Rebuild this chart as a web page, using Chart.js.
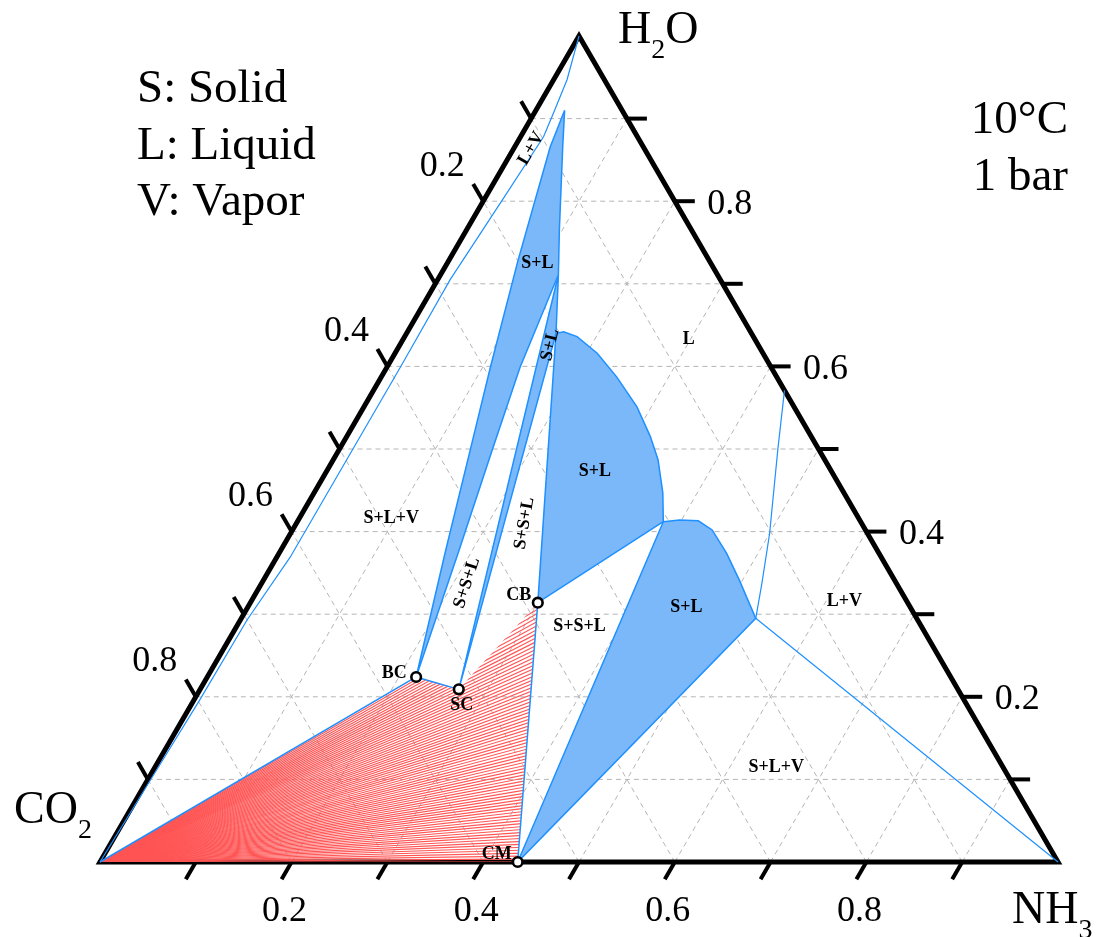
<!DOCTYPE html>
<html>
<head>
<meta charset="utf-8">
<script src="https://cdn.jsdelivr.net/npm/chart.js@4.4.0/dist/chart.umd.min.js"></script>
<style>
  body { margin: 0; background: #fff; }
  #ternaire { display: block; }
</style>
</head>
<body>
<canvas id="ternaire" width="1097" height="937"></canvas>
<script>
// Compositions en fractions [NH3, H2O] ; CO2 = 1 - NH3 - H2O
const sommetCO2 = [0, 0];
const sommetNH3 = [1, 0];
const sommetH2O = [0, 1];

// points singuliers (sels solides)
const ptCM = [0.436, 0.000];
const ptBC = [0.218, 0.224];
const ptSC = [0.270, 0.209];
const ptCB = [0.300, 0.314];

// domaines S+L
const zoneSL_haut = [
  [0.030, 0.910], [0.050, 0.866], [0.097, 0.765], [0.123, 0.711], [0.139, 0.599],
  [0.160, 0.499], [0.186, 0.378], ptBC,
  [0.172, 0.378], [0.137, 0.499], [0.108, 0.599], [0.072, 0.729], [0.037, 0.866], [0.030, 0.910]
];
const zoneSL_etroit = [[0.123, 0.711], [0.156, 0.640], ptSC, [0.123, 0.711]];
const zoneSL_milieu = [
  [0.156, 0.640], [0.163, 0.642], [0.180, 0.636], [0.211, 0.616], [0.246, 0.587],
  [0.285, 0.551], [0.317, 0.515], [0.339, 0.487], [0.364, 0.447], [0.382, 0.412],
  ptCB, [0.156, 0.640]
];
const zoneSL_bas = [
  [0.382, 0.412], [0.398, 0.414], [0.418, 0.413], [0.438, 0.402], [0.467, 0.374],
  [0.497, 0.341], [0.537, 0.295], ptCM, [0.382, 0.412]
];

// frontières liquide / vapeur
const courbeLV_gauche = [
  sommetH2O, [0.014, 0.947], [0.020, 0.907], [0.024, 0.878], [0.019, 0.798],
  [0.013, 0.705], [0.014, 0.599], [0.014, 0.369], [0.007, 0.293], [0.006, 0.196],
  [0.003, 0.099], sommetCO2
];
const courbeLV_droite = [[0.537, 0.295], [0.522, 0.338], [0.500, 0.398], [0.458, 0.499], [0.429, 0.571]];
const ligneSLV_droite = [[0.537, 0.295], sommetNH3];
const ligneCO2_BC = [sommetCO2, ptBC];
const ligneBC_SC = [ptBC, ptSC];
const ligneCB_CM = [ptCB, ptCM];

// domaine des conodales, hachuré en éventail depuis CO2
const zoneConodales = [sommetCO2, ptBC, ptSC, ptCB, ptCM];

// graduations des trois axes
const graduations = [0.1, 0.2, 0.3, 0.4, 0.5, 0.6, 0.7, 0.8, 0.9];
const etiquettesAxes = ['0.2', '0.4', '0.6', '0.8'];

// étiquettes des domaines : texte, position [NH3, H2O], angle en degrés
const etiquettesDomaines = [
  ['L+V', [0.018, 0.864], -60],
  ['S+L', [0.094, 0.725], 0],
  ['S+L', [0.157, 0.626], -76],
  ['S+S+L', [0.214, 0.338], -72],
  ['S+S+L', [0.238, 0.410], -80],
  ['S+L+V', [0.096, 0.416], 0],
  ['S+L', [0.280, 0.473], 0],
  ['L', [0.298, 0.633], 0],
  ['S+L', [0.458, 0.308], 0],
  ['S+S+L', [0.358, 0.285], 0],
  ['L+V', [0.619, 0.316], 0],
  ['S+L+V', [0.649, 0.114], 0]
];
const nomsPoints = [['BC', ptBC, -22, -4], ['SC', ptSC, 3, 16], ['CB', ptCB, -19, -7], ['CM', ptCM, -21, -8]];

const BLEU = 'rgb(30,144,255)';
const BLEU_CLAIR = 'rgb(122,184,250)';
const POLICE = '"Liberation Serif", "Times New Roman", serif';

// coordonnées ternaires -> repère cartésien du graphique
const toXY = ([nh3, h2o]) => ({ x: nh3 + h2o / 2, y: h2o });

function px(chart, p) {
  const { x, y } = toXY(p);
  return [chart.scales.x.getPixelForValue(x), chart.scales.y.getPixelForValue(y)];
}

function segment(ctx, a, b) {
  ctx.beginPath();
  ctx.moveTo(a[0], a[1]);
  ctx.lineTo(b[0], b[1]);
  ctx.stroke();
}

function ligne(data, largeur) {
  return {
    data: data.map(toXY), showLine: true, borderColor: BLEU, borderWidth: largeur,
    pointRadius: 0, fill: false, tension: 0, clip: false, order: 2
  };
}

function zone(data) {
  return {
    data: data.map(toXY), showLine: true, borderColor: BLEU, borderWidth: 1.5,
    backgroundColor: BLEU_CLAIR, fill: 'shape', pointRadius: 0, tension: 0, clip: false, order: 3
  };
}

// texte avec indice (H2O, CO2, NH3)
function formule(ctx, morceaux, x, y) {
  morceaux.forEach(([txt, indice]) => {
    ctx.font = (indice ? '28px ' : '46px ') + POLICE;
    ctx.fillText(txt, x, indice ? y + 15 : y);
    x += ctx.measureText(txt).width;
  });
}

const pluginTernaire = {
  id: 'ternaire',
  beforeDatasetsDraw(chart) {
    const ctx = chart.ctx;
    ctx.save();

    // grille pointillée
    ctx.strokeStyle = '#b5b5b5';
    ctx.lineWidth = 1;
    ctx.setLineDash([5, 4]);
    graduations.forEach(g => {
      segment(ctx, px(chart, [g, 0]), px(chart, [g, 1 - g]));
      segment(ctx, px(chart, [0, g]), px(chart, [1 - g, g]));
      segment(ctx, px(chart, [g, 0]), px(chart, [0, g]));
    });
    ctx.setLineDash([]);

    // cadre du triangle
    const A = px(chart, sommetCO2), B = px(chart, sommetNH3), C = px(chart, sommetH2O);
    ctx.strokeStyle = '#000';
    ctx.lineWidth = 5;
    ctx.lineJoin = 'miter';
    ctx.beginPath();
    ctx.moveTo(A[0], A[1]); ctx.lineTo(B[0], B[1]); ctx.lineTo(C[0], C[1]); ctx.closePath();
    ctx.stroke();

    // graduations
    const L = 20;
    ctx.lineWidth = 4;
    ctx.lineCap = 'butt';
    graduations.forEach(g => {
      const pb = px(chart, [g, 0]);
      segment(ctx, pb, [pb[0] - 0.5 * L, pb[1] + 0.866 * L]);
      const pd = px(chart, [1 - g, g]);
      segment(ctx, pd, [pd[0] + L, pd[1]]);
      const pg = px(chart, [0, 1 - g]);
      segment(ctx, pg, [pg[0] - 0.5 * L, pg[1] - 0.866 * L]);
    });

    // conodales : rayons depuis CO2, découpés par le contour du domaine
    const contour = zoneConodales.map(p => px(chart, p));
    ctx.save();
    ctx.beginPath();
    contour.forEach(([x, y], i) => (i ? ctx.lineTo(x, y) : ctx.moveTo(x, y)));
    ctx.closePath();
    ctx.clip();
    const angleMax = Math.max(...contour.slice(1).map(([x, y]) => Math.atan2(A[1] - y, x - A[0])));
    const pasAngle = 0.4 * Math.PI / 180;
    ctx.strokeStyle = 'rgb(255,85,85)';
    ctx.lineWidth = 1.15;
    for (let t = 0; t <= angleMax + 1e-6; t += pasAngle) {
      segment(ctx, A, [A[0] + 1000 * Math.cos(t), A[1] - 1000 * Math.sin(t)]);
    }
    ctx.restore();
    ctx.restore();
  },
  afterDatasetsDraw(chart) {
    const ctx = chart.ctx;
    ctx.save();
    ctx.fillStyle = '#000';
    ctx.textAlign = 'center';
    ctx.textBaseline = 'middle';

    // étiquettes des domaines
    ctx.font = 'bold 18px ' + POLICE;
    etiquettesDomaines.forEach(([txt, p, angle]) => {
      const [x, y] = px(chart, p);
      ctx.save();
      ctx.translate(x, y);
      ctx.rotate(angle * Math.PI / 180);
      ctx.fillText(txt, 0, 0);
      ctx.restore();
    });
    nomsPoints.forEach(([txt, p, dx, dy]) => {
      const [x, y] = px(chart, p);
      ctx.fillText(txt, x + dx, y + dy);
    });

    // valeurs des axes
    ctx.font = '36px ' + POLICE;
    etiquettesAxes.forEach(txt => {
      const v = parseFloat(txt);
      const pb = px(chart, [v, 0]);
      ctx.fillText(txt, pb[0] - 7, pb[1] + 50);
      const pd = px(chart, [1 - v, v]);
      ctx.fillText(txt, pd[0] + 55, pd[1] + 3);
      const pg = px(chart, [0, 1 - v]);
      ctx.fillText(txt, pg[0] - 41, pg[1] - 35);
    });

    // sommets
    ctx.textAlign = 'left';
    ctx.textBaseline = 'alphabetic';
    const A = px(chart, sommetCO2), B = px(chart, sommetNH3), C = px(chart, sommetH2O);
    formule(ctx, [['H', false], ['2', true], ['O', false]], C[0] + 39, C[1] + 7);
    formule(ctx, [['CO', false], ['2', true]], A[0] - 86, A[1] - 39);
    formule(ctx, [['NH', false], ['3', true]], B[0] - 46, B[1] + 61);

    // légende et conditions
    ctx.font = '47px ' + POLICE;
    ['S: Solid', 'L: Liquid', 'V: Vapor'].forEach((t, i) => ctx.fillText(t, 137, 102 + i * 56.5));
    ctx.textAlign = 'right';
    ctx.fillText('10°C', 1068, 133);
    ctx.fillText('1 bar', 1068, 190);
    ctx.restore();
  }
};

new Chart(document.getElementById('ternaire'), {
  type: 'scatter',
  data: {
    datasets: [
      {
        data: [ptBC, ptSC, ptCB, ptCM].map(toXY), showLine: false,
        pointRadius: 4.8, pointBorderWidth: 2.6, pointBackgroundColor: '#fff',
        pointBorderColor: '#000', clip: false, order: 0
      },
      ligne(courbeLV_gauche, 1.2),
      ligne(courbeLV_droite, 1.2),
      ligne(ligneSLV_droite, 1.2),
      ligne(ligneCO2_BC, 1.5),
      ligne(ligneBC_SC, 1.5),
      ligne(ligneCB_CM, 1.5),
      zone(zoneSL_haut),
      zone(zoneSL_etroit),
      zone(zoneSL_milieu),
      zone(zoneSL_bas)
    ]
  },
  options: {
    responsive: false,
    animation: false,
    layout: { padding: { left: 100, right: 39, top: 36, bottom: 75 } },
    plugins: { legend: { display: false }, tooltip: { enabled: false } },
    scales: {
      x: { type: 'linear', min: 0, max: 1, display: false },
      y: { type: 'linear', min: 0, max: 1, display: false }
    }
  },
  plugins: [pluginTernaire]
});
</script>
</body>
</html>
